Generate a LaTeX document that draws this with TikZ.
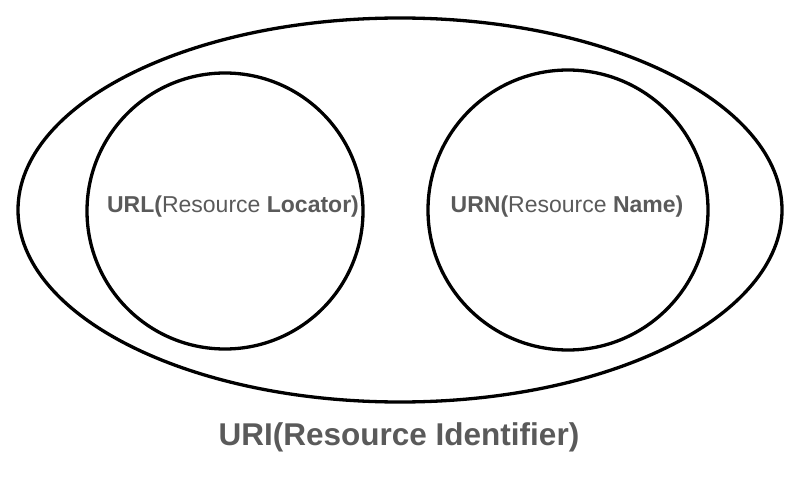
\documentclass[tikz,border=0pt]{standalone}
\usepackage{fontspec}
\setmainfont{Liberation Sans}
\usetikzlibrary{shapes.geometric}
\definecolor{txtgray}{HTML}{5A5A5A}
\begin{document}
\begin{tikzpicture}[x=1pt,y=-1pt,
  outline/.style={draw=black,line width=3.3pt},
  lbl/.style={text=txtgray,inner sep=0pt,font=\fontsize{23}{27}\selectfont},
  biglbl/.style={text=txtgray,inner sep=0pt,font=\fontsize{31.5}{37}\selectfont\bfseries}]
\useasboundingbox (0,0) rectangle (810,481);
\node[outline,ellipse,minimum width=764pt,minimum height=384pt,inner sep=0pt] (uri) at (400,210) {};
\node[outline,circle,minimum size=276pt,inner sep=0pt] (url) at (225,211) {};
\node[outline,circle,minimum size=280pt,inner sep=0pt] (urn) at (568,210) {};
\node[lbl] (urltxt) at (233,207) {\textbf{URL(}Resource \textbf{Locator)}};
\node[lbl] (urntxt) at (567,207) {\textbf{URN(}Resource \textbf{Name)}};
\node[biglbl] (uritxt) at (399,437) {URI(Resource Identifier)};
\end{tikzpicture}
\end{document}
